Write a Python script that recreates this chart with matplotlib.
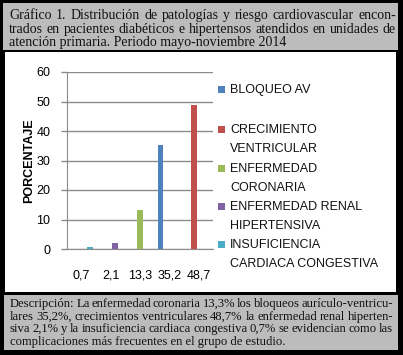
import matplotlib
matplotlib.use("Agg")
import matplotlib.pyplot as plt
from matplotlib.patches import Rectangle
import numpy as np

# ---- data ----
categories = ["0,7", "2,1", "13,3", "35,2", "48,7"]
series_names = ["BLOQUEO AV", "CRECIMIENTO\nVENTRICULAR", "ENFERMEDAD\nCORONARIA",
                "ENFERMEDAD RENAL\nHIPERTENSIVA", "INSUFICIENCIA\nCARDIACA CONGESTIVA"]
bloqueo_av = [0, 0, 0, 35.2, 0]
crecimiento_ventricular = [0, 0, 0, 0, 48.7]
enfermedad_coronaria = [0, 0, 13.3, 0, 0]
enfermedad_renal = [0, 2.1, 0, 0, 0]
insuficiencia_cardiaca = [0.7, 0, 0, 0, 0]
series_values = [bloqueo_av, crecimiento_ventricular, enfermedad_coronaria,
                 enfermedad_renal, insuficiencia_cardiaca]
colors = ["#4F81BD", "#C0504D", "#9BBB59", "#8064A2", "#4BACC6"]
y_ticks = [0, 10, 20, 30, 40, 50, 60]

title_lines = [
    "Gráfico 1. Distribución de patologías y riesgo cardiovascular encon-",
    "trados en pacientes diabéticos e hipertensos atendidos en unidades de",
    "atención primaria. Periodo mayo-noviembre 2014",
]
desc_lines = [
    "Descripción: La enfermedad coronaria 13,3% los bloqueos aurículo-ventricu-",
    "lares 35,2%, crecimientos ventriculares 48,7% la enfermedad renal hiperten-",
    "siva 2,1% y la insuficiencia cardiaca congestiva 0,7% se evidencian como las",
    "complicaciones más frecuentes en el grupo de estudio.",
]

W, H = 403, 355
DPI = 100
fig = plt.figure(figsize=(W / DPI, H / DPI), dpi=DPI)
fig.patch.set_facecolor("black")

# background / frame axes in pixel coords
bg = fig.add_axes([0, 0, 1, 1])
bg.set_xlim(0, W)
bg.set_ylim(H, 0)
bg.axis("off")
gray = "#bcbcbc"
bg.add_patch(Rectangle((3, 3), 395, 46.5, facecolor=gray, edgecolor="none"))
bg.add_patch(Rectangle((5, 52), 391, 240, facecolor="white", edgecolor="none"))
bg.add_patch(Rectangle((4, 294.5), 394, 55, facecolor=gray, edgecolor="none"))

serif = "Liberation Serif"
sans = "Liberation Sans"

fig.canvas.draw()
renderer = fig.canvas.get_renderer()


def justified(lines, x0, x1, y0, dy, size):
    for k, line in enumerate(lines):
        y = y0 + k * dy
        words = line.split(" ")
        if k == len(lines) - 1:
            bg.text(x0, y, line, fontsize=size, family=serif, va="baseline",
                    ha="left", color="#111111")
            continue
        widths = []
        for w in words:
            t = bg.text(0, 0, w, fontsize=size, family=serif)
            bb = t.get_window_extent(renderer=renderer)
            widths.append(bb.width)
            t.remove()
        gap = max((x1 - x0 - sum(widths)) / (len(words) - 1), 1.5)
        x = x0
        for w, wd in zip(words, widths):
            bg.text(x, y, w, fontsize=size, family=serif, va="baseline",
                    ha="left", color="#111111")
            x += wd + gap


justified(title_lines, 9, 396, 19, 13.6, 10.0)
justified(desc_lines, 10, 393, 307, 12.6, 9.1)

# ---- chart ----
ax = fig.add_axes([67 / W, (H - 249) / H, 146 / W, 177 / H])
x = np.arange(len(categories))
step = 0.15
width = 0.2
for j, (vals, c) in enumerate(zip(series_values, colors)):
    ax.bar(x + (j - 2) * step, vals, width=width, color=c, zorder=3)

ax.set_xlim(-0.5, len(categories) - 0.5)
ax.set_ylim(0, 60)
ax.set_yticks(y_ticks)
ax.set_yticklabels([str(v) for v in y_ticks], fontsize=9, family=sans)
ax.set_xticks(x)
ax.set_xticklabels(categories, fontsize=9, family=sans)
ax.tick_params(axis="x", length=0, pad=15)
ax.tick_params(axis="y", length=4, width=1, color="#8c8c8c", pad=8)
ax.grid(axis="y", color="#8c8c8c", linewidth=1, zorder=0)
for s in ["top", "right"]:
    ax.spines[s].set_visible(False)
ax.spines["left"].set_color("#8c8c8c")
ax.spines["bottom"].set_color("#8c8c8c")
ax.set_ylabel("PORCENTAJE", fontsize=9, family=sans, fontweight="bold", labelpad=1)

# legend (manual layout)
leg_y = [90, 130, 169, 207, 245]
for name, c, yy in zip(series_names, colors, leg_y):
    bg.add_patch(Rectangle((217.5, yy - 4), 7, 7, facecolor=c, edgecolor="none"))
    for li, part in enumerate(name.split("\n")):
        bg.text(230, yy + li * 19, part, fontsize=9, family=sans, va="center",
                ha="left", color="#111111")

fig.savefig("out.png", dpi=DPI, facecolor=fig.get_facecolor())
